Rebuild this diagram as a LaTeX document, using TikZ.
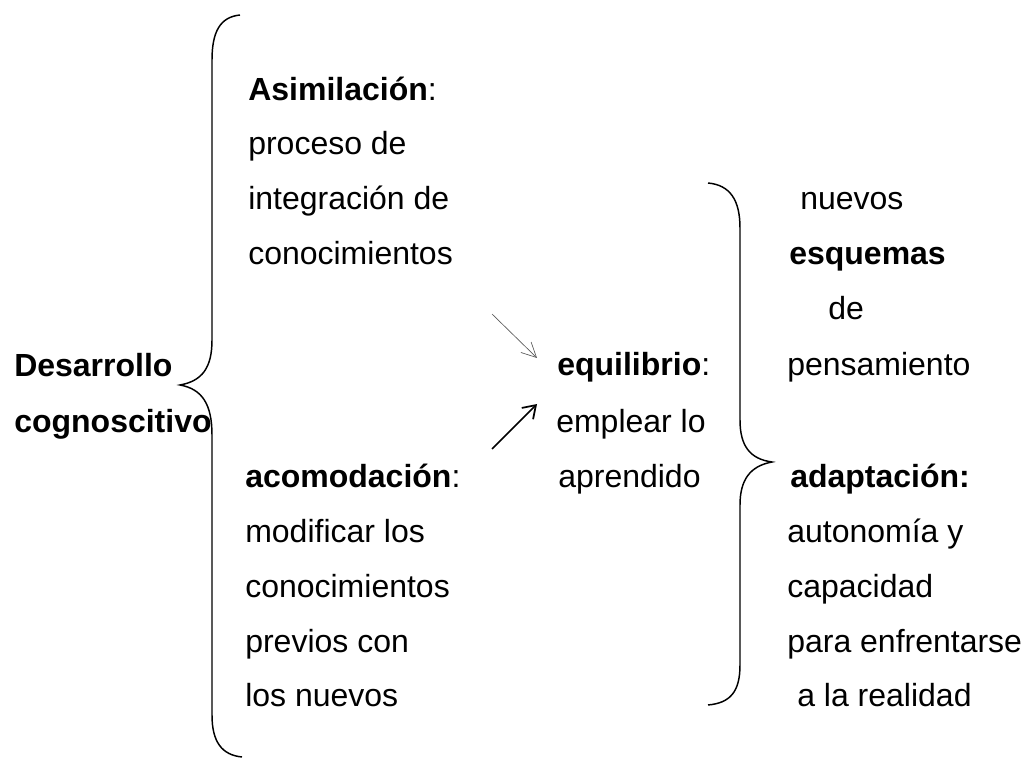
\documentclass[tikz,border=0pt]{standalone}
\usepackage{fontspec}
\setmainfont{Liberation Sans}
\usetikzlibrary{arrows.meta}
\newcommand{\conceptsize}{\fontsize{24}{28}\selectfont}
\tikzstyle{txt}=[anchor=base west,inner sep=0pt,font=\conceptsize]
\tikzstyle{bracestroke}=[draw=black,line width=1.1pt]
\tikzstyle{thinarrow}=[draw=black!65,line width=0.5pt,-{Straight Barb[length=11pt,width=11pt]}]
\tikzstyle{thickarrow}=[draw=black,line width=1.3pt,-{Straight Barb[length=9pt,width=12pt]}]

\begin{document}
\begin{tikzpicture}[x=0.75pt,y=-0.75pt]
  \useasboundingbox (0,0) rectangle (1029,759);
  % root
  \node[txt] (desa0) at (14,377) {\textbf{Desarrollo}};
  \node[txt] (desa1) at (14,433) {\textbf{cognoscitivo}};
  % asimilacion
  \node[txt] (asim0) at (248,101) {\textbf{Asimilación}:};
  \node[txt] (asim1) at (248,155) {proceso de};
  \node[txt] (asim2) at (248,210) {integración de};
  \node[txt] (asim3) at (248,265) {conocimientos};
  % acomodacion
  \node[txt] (acom0) at (245,487) {\textbf{acomodación}:};
  \node[txt] (acom1) at (245,542) {modificar los};
  \node[txt] (acom2) at (245,597) {conocimientos};
  \node[txt] (acom3) at (245,652) {previos con};
  \node[txt] (acom4) at (245,706) {los nuevos};
  % equilibrio
  \node[txt] (equi0) at (557,376) {\textbf{equilibrio}:};
  \node[txt] (equi1) at (556,432) {emplear lo};
  \node[txt] (equi2) at (558,487) {aprendido};
  % esquemas
  \node[txt] (esqu0) at (800,210) {nuevos};
  \node[txt] (esqu1) at (789,265) {\textbf{esquemas}};
  \node[txt] (esqu2) at (828,320) {de};
  \node[txt] (esqu3) at (787,376) {pensamiento};
  % adaptacion
  \node[txt] (adap0) at (790,487) {\textbf{adaptación:}};
  \node[txt] (adap1) at (787,542) {autonomía y};
  \node[txt] (adap2) at (787,597) {capacidad};
  \node[txt] (adap3) at (787,652) {para enfrentarse};
  \node[txt] (adap4) at (797,706) {a la realidad};
  % braces
  \path[bracestroke] (240,15) .. controls (220,17) and (212,32) .. (212,60)
    -- (212,340) .. controls (212,368) and (202,381) .. (180,385)
    .. controls (202,389) and (212,404) .. (212,435)
    -- (212,715) .. controls (212,742) and (222,755) .. (242,757);
  \path[bracestroke] (708,183) .. controls (730,185) and (740,200) .. (740,228)
    -- (740,420) .. controls (740,446) and (750,459) .. (772,462)
    .. controls (750,466) and (740,480) .. (740,505)
    -- (740,665) .. controls (740,692) and (730,703) .. (708,705);
  % arrows
  \coordinate (asimtail) at (492,314);
  \coordinate (asimtip) at (537,358);
  \coordinate (acomtail) at (492,449);
  \coordinate (acomtip) at (537,404);
  \draw[thinarrow] (asimtail) -- (asimtip);
  \draw[thickarrow] (acomtail) -- (acomtip);
\end{tikzpicture}
\end{document}
